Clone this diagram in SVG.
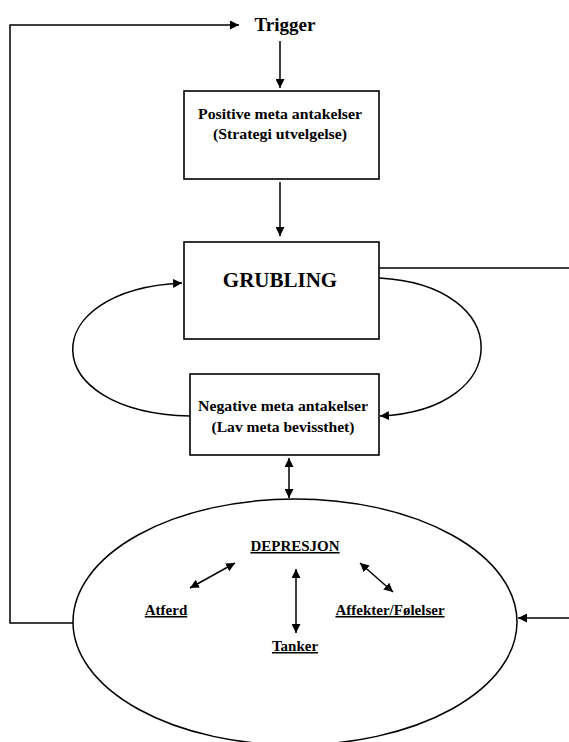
<svg xmlns="http://www.w3.org/2000/svg" width="569" height="742" viewBox="0 0 569 742">
<style>
.box{fill:#fff;stroke:#000;stroke-width:1.6}
.ln{fill:none;stroke:#000;stroke-width:1.5}
.t{font-family:"Liberation Serif","Times New Roman",serif;font-weight:bold;fill:#000;text-anchor:middle}
.u{text-decoration:underline}
</style>
<defs>
<marker id="ah" viewBox="0 0 10 10" refX="10" refY="5" markerWidth="9" markerHeight="9" markerUnits="userSpaceOnUse" orient="auto-start-reverse">
<path d="M0,0 L10,5 L0,10 Z" fill="#000"/>
</marker>
</defs>
<rect width="569" height="742" fill="#fff"/>
<g id="connectors">
<path class="ln" d="M73,623 H10 V25 H239" marker-end="url(#ah)"/>
<path class="ln" d="M280,41 V88" marker-end="url(#ah)"/>
<path class="ln" d="M280,182 V236" marker-end="url(#ah)"/>
<path class="ln" d="M379,268 H580 V618 H518" marker-end="url(#ah)"/>
<path class="ln" d="M190,416 C35,412 35,290 182,283" marker-end="url(#ah)"/>
<path class="ln" d="M379,278 C515,285 515,410 380,416" marker-end="url(#ah)"/>
<path class="ln" d="M289,458 V498" marker-start="url(#ah)" marker-end="url(#ah)"/>
<path class="ln" d="M190,588 L235,563" marker-start="url(#ah)" marker-end="url(#ah)"/>
<path class="ln" d="M296,569 V633" marker-start="url(#ah)" marker-end="url(#ah)"/>
<path class="ln" d="M360,563 L393,592" marker-start="url(#ah)" marker-end="url(#ah)"/>
</g>
<g id="trigger">
<text class="t" x="285" y="31" font-size="19">Trigger</text>
</g>
<g id="positive">
<rect class="box" x="184" y="91" width="195" height="88"/>
<text class="t" x="280" y="119" font-size="15" textLength="164" lengthAdjust="spacingAndGlyphs">Positive meta antakelser</text>
<text class="t" x="280" y="139" font-size="15" textLength="134" lengthAdjust="spacingAndGlyphs">(Strategi utvelgelse)</text>
</g>
<g id="grubling">
<rect class="box" x="184" y="242" width="195" height="97"/>
<text class="t" x="280" y="287" font-size="21">GRUBLING</text>
</g>
<g id="negative">
<rect class="box" x="190" y="374" width="189" height="81"/>
<text class="t" x="283" y="411" font-size="15" textLength="170" lengthAdjust="spacingAndGlyphs">Negative meta antakelser</text>
<text class="t" x="283" y="432" font-size="15" textLength="143" lengthAdjust="spacingAndGlyphs">(Lav meta bevissthet)</text>
</g>
<g id="depresjon">
<ellipse class="ln" cx="295" cy="622" rx="222" ry="123"/>
<text class="t u" x="295" y="551" font-size="15">DEPRESJON</text>
<text class="t u" x="166" y="615" font-size="15">Atferd</text>
<text class="t u" x="390" y="615" font-size="15">Affekter/Følelser</text>
<text class="t u" x="295" y="651" font-size="15">Tanker</text>
</g>
</svg>
